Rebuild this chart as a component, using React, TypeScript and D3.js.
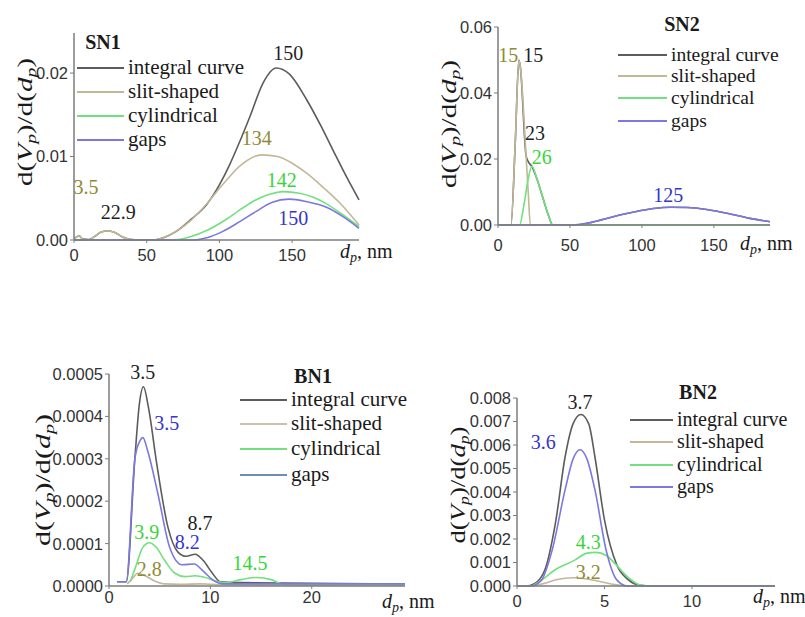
import React from 'react';
import * as d3 from 'd3';

type Pt = [number, number];

const SERIES_NAMES = ['integral curve', 'slit-shaped', 'cylindrical', 'gaps'];

// ---------- SN1 ----------
const sn1Integral: Pt[] = [[0,0.0002],[2,0.0004],[3.5,0.0005],[6,0.0001],[10,0.00005],[14,0.0004],[18,0.0009],[23,0.0011],[28,0.0009],[33,0.0004],[38,0.0001],[45,0],[55,0],[62,0.0003],[70,0.0010],[80,0.0024],[91,0.0042],[100,0.0066],[107,0.0090],[114,0.0118],[121,0.0148],[130,0.0188],[139,0.0206],[148,0.0199],[160,0.0168],[170,0.0136],[178,0.0108],[187,0.0077],[196,0.0048]];
const sn1Slit: Pt[] = [[0,0.0002],[2,0.0004],[3.5,0.0005],[6,0.0001],[10,0],[14,0.0004],[18,0.0009],[23,0.0011],[28,0.0009],[33,0.0004],[38,0.0001],[45,0],[55,0],[62,0.0003],[70,0.0010],[80,0.0023],[90,0.0041],[103,0.0068],[115,0.0090],[129,0.0102],[140,0.0100],[150,0.0092],[160,0.0080],[172,0.0062],[183,0.0044],[196,0.0018]];
const sn1Cyl: Pt[] = [[0,0],[68,0],[80,0.0004],[92,0.0012],[104,0.0024],[114,0.0036],[125,0.0048],[135,0.0055],[144,0.0058],[155,0.0056],[165,0.0051],[174,0.0043],[185,0.0030],[196,0.0016]];
const sn1Gaps: Pt[] = [[0,0],[82,0],[92,0.0003],[102,0.0010],[114,0.0022],[125,0.0034],[136,0.0045],[148,0.0049],[160,0.0046],[174,0.0039],[185,0.0028],[196,0.0014]];
const sn1XTicks = [0, 50, 100, 150];
const sn1YTicks = [0, 0.01, 0.02];
const sn1Labels = [
  { text: '150', series: 0, x: 147.4, y: 0.02236 },
  { text: '134', series: 1, x: 125.6, y: 0.01218 },
  { text: '142', series: 2, x: 142.8, y: 0.00719 },
  { text: '150', series: 3, x: 150.8, y: 0.0026 },
  { text: '3.5', series: 1, x: 8.3, y: 0.00638 },
  { text: '22.9', series: 0, x: 30.5, y: 0.00339 },
];

// ---------- SN2 ----------
const sn2Integral: Pt[] = [[0,0],[9,0],[12,0.025],[14.5,0.05],[15.5,0.048],[19.5,0.021],[21,0.0192],[23.5,0.0178],[27,0.014],[31,0.0085],[35,0.003],[38,0],[52,0],[65,0.0008],[80,0.0025],[95,0.0040],[108,0.0050],[120,0.0054],[132,0.0053],[145,0.0047],[160,0.0035],[175,0.0020],[189,0.0010]];
const sn2Slit: Pt[] = [[0,0],[9,0],[12,0.025],[14.5,0.05],[15.5,0.048],[19.5,0.021],[21,0.01],[22.5,0],[189,0]];
const sn2Cyl: Pt[] = [[0,0],[15,0],[18,0.006],[21,0.014],[23.5,0.0178],[27,0.014],[31,0.0085],[35,0.003],[38,0],[189,0]];
const sn2Gaps: Pt[] = [[0,0],[52,0],[65,0.0008],[80,0.0025],[95,0.0040],[108,0.0050],[120,0.0054],[132,0.0053],[145,0.0047],[160,0.0035],[175,0.0020],[189,0.0010]];
const sn2XTicks = [0, 50, 100, 150];
const sn2YTicks = [0, 0.02, 0.04, 0.06];
const sn2Labels = [
  { text: '15', series: 1, x: 7.2, y: 0.0515 },
  { text: '15', series: 0, x: 24.5, y: 0.0515 },
  { text: '23', series: 0, x: 25.7, y: 0.0278 },
  { text: '26', series: 2, x: 30.4, y: 0.0207 },
  { text: '125', series: 3, x: 118.3, y: 0.0091 },
];

// ---------- BN1 ----------
const bn1Integral: Pt[] = [[0.8,0.00001],[1.7,0.00001],[2.55,0.0003],[3.0,0.00043],[3.4,0.00047],[3.9,0.00042],[4.7,0.00029],[5.8,0.00014],[6.8,0.00008],[7.6,0.00007],[8.5,0.000075],[9.3,0.00006],[10.2,0.00003],[11,0.00001],[13,0.000008],[29.2,0.000005]];
const bn1Slit: Pt[] = [[1.8,0.000005],[2.4,0.00002],[2.8,0.00003],[3.5,0.000025],[4.5,0.000012],[5.5,0.000005],[7,0.000004],[9,0.000005],[11,0.000003],[29.2,0.000002]];
const bn1Cyl: Pt[] = [[2.1,0.00001],[2.7,0.00005],[3.3,0.00009],[4.0,0.000102],[4.7,0.00009],[5.5,0.00006],[6.5,0.00003],[7.5,0.000022],[8.5,0.000024],[9.5,0.00002],[10.5,0.000012],[11.5,0.000008],[13,0.000015],[14.5,0.00002],[16,0.000015],[17,0.000005],[18,0.000002],[29.2,0.000002]];
const bn1Gaps: Pt[] = [[0.8,0.00001],[1.7,0.00001],[2.55,0.0003],[3.0,0.00034],[3.35,0.00035],[3.8,0.00032],[4.8,0.00022],[6.0,0.00009],[7.2,0.00005],[8.4,0.000052],[9.3,0.000035],[10.2,0.000015],[11.2,0.000005],[29.2,0.000005]];
const bn1XTicks = [0, 10, 20];
const bn1YTicks = [0, 0.0001, 0.0002, 0.0003, 0.0004, 0.0005];
const bn1Labels = [
  { text: '3.5', series: 0, x: 3.32, y: 0.000505 },
  { text: '3.5', series: 3, x: 5.69, y: 0.000384 },
  { text: '3.9', series: 2, x: 3.72, y: 0.000128 },
  { text: '2.8', series: 1, x: 3.98, y: 0.0000394 },
  { text: '8.7', series: 0, x: 8.98, y: 0.000148 },
  { text: '8.2', series: 3, x: 7.72, y: 0.0001045 },
  { text: '14.5', series: 2, x: 13.91, y: 0.0000535 },
];

// ---------- BN2 ----------
const bn2Integral: Pt[] = [[0,0],[0.5,0],[1.0,0.0001],[1.6,0.0007],[2.2,0.0027],[2.75,0.0055],[3.2,0.0069],[3.65,0.0073],[4.1,0.0069],[4.45,0.0055],[5.0,0.0028],[5.7,0.0009],[6.3,0.0003],[6.9,0.00005],[7.5,0],[14.74,0]];
const bn2Slit: Pt[] = [[0,0],[0.8,0],[1.5,0.0001],[2.3,0.00028],[3.2,0.00035],[4.0,0.0003],[4.8,0.00018],[5.6,0.00006],[6.3,0],[14.74,0]];
const bn2Cyl: Pt[] = [[0,0],[0.8,0],[1.3,0.0002],[2.2,0.0007],[3.3,0.0011],[4.0,0.0014],[4.5,0.00143],[5.1,0.0013],[5.6,0.00095],[6.3,0.0004],[7.0,0.00005],[7.5,0],[14.74,0]];
const bn2Gaps: Pt[] = [[0,0],[0.8,0],[1.4,0.00025],[2.0,0.0015],[2.75,0.0041],[3.2,0.0054],[3.6,0.0058],[4.0,0.0054],[4.45,0.0041],[5.1,0.0015],[5.7,0.00026],[6.3,0],[14.74,0]];
const bn2XTicks = [0, 5, 10];
const bn2YTicks = [0, 0.001, 0.002, 0.003, 0.004, 0.005, 0.006, 0.007, 0.008];
const bn2Labels = [
  { text: '3.7', series: 0, x: 3.6, y: 0.00782 },
  { text: '3.6', series: 3, x: 1.5, y: 0.00614 },
  { text: '4.3', series: 2, x: 4.07, y: 0.00189 },
  { text: '3.2', series: 1, x: 4.07, y: 0.00061 },
];

const LINE_COLORS = ['#5c5c5c', '#c2b898', '#72e07e', '#7b78e0'];
const LABEL_COLORS = ['#1e1e1e', '#8f8a35', '#3ad43a', '#3636c8'];

interface PanelCfg {
  title: string;
  series: Pt[][];
  xDomain: [number, number];
  yDomain: [number, number];
  xRange: [number, number];
  yRange: [number, number];
  xTicks: number[];
  yTicks: number[];
  yFmt: string;
  labels: { text: string; series: number; x: number; y: number }[];
  xTickOff: number;
  titlePos: [number, number];
  legendX: number;
  legendRows: number[];
  legendLen: number;
  legendFont: number;
  legendColors: string[];
  yLabelPos: [number, number];
  yLabelLen: number;
  xLabelPos: [number, number];
}

const PANELS: PanelCfg[] = [
  {
    title: 'SN1', series: [sn1Integral, sn1Slit, sn1Cyl, sn1Gaps],
    xDomain: [0, 196], yDomain: [0, 0.0248], xRange: [74, 359], yRange: [240, 33],
    xTicks: sn1XTicks, yTicks: sn1YTicks, yFmt: '.2f', labels: sn1Labels, xTickOff: 15,
    titlePos: [103, 49], legendX: 77, legendRows: [68, 92, 116, 140], legendLen: 47, legendFont: 21,
    legendColors: LINE_COLORS, yLabelPos: [32, 122], yLabelLen: 128, xLabelPos: [340, 258],
  },
  {
    title: 'SN2', series: [sn2Integral, sn2Slit, sn2Cyl, sn2Gaps],
    xDomain: [0, 189], yDomain: [0, 0.06], xRange: [498, 770], yRange: [225, 27],
    xTicks: sn2XTicks, yTicks: sn2YTicks, yFmt: '.2f', labels: sn2Labels, xTickOff: 20,
    titlePos: [682, 31], legendX: 618, legendRows: [55, 76, 98, 121], legendLen: 49, legendFont: 19.5,
    legendColors: LINE_COLORS, yLabelPos: [456, 124], yLabelLen: 128, xLabelPos: [740, 250],
  },
  {
    title: 'BN1', series: [bn1Integral, bn1Slit, bn1Cyl, bn1Gaps],
    xDomain: [0, 29.2], yDomain: [0, 0.0005], xRange: [109, 405], yRange: [586, 374],
    xTicks: bn1XTicks, yTicks: bn1YTicks, yFmt: '.4f', labels: bn1Labels, xTickOff: 11,
    titlePos: [313, 383], legendX: 240, legendRows: [400, 424, 449, 475], legendLen: 47, legendFont: 21,
    legendColors: ['#5c5c5c', '#c9c4a8', '#72e07e', '#6f8db0'], yLabelPos: [50, 480], yLabelLen: 132, xLabelPos: [382, 608],
  },
  {
    title: 'BN2', series: [bn2Integral, bn2Slit, bn2Cyl, bn2Gaps],
    xDomain: [0, 14.74], yDomain: [0, 0.008], xRange: [517, 775], yRange: [586, 398],
    xTicks: bn2XTicks, yTicks: bn2YTicks, yFmt: '.3f', labels: bn2Labels, xTickOff: 15,
    titlePos: [698, 399], legendX: 630, legendRows: [420, 442, 465, 487], legendLen: 43, legendFont: 20,
    legendColors: LINE_COLORS, yLabelPos: [465, 485], yLabelLen: 117, xLabelPos: [753, 603],
  },
];

const AXIS = '#7c7c7c';
const SERIF = '"Liberation Serif", "Times New Roman", serif';
const SANS = '"Liberation Sans", Arial, sans-serif';

function Panel({ cfg }: { cfg: PanelCfg }) {
  const x = d3.scaleLinear().domain(cfg.xDomain).range(cfg.xRange);
  const y = d3.scaleLinear().domain(cfg.yDomain).range(cfg.yRange);
  const line = d3.line<Pt>().x(d => x(d[0])).y(d => y(d[1])).curve(d3.curveMonotoneX);
  const fmt = d3.format(cfg.yFmt);
  const x0 = cfg.xRange[0];
  const y0 = cfg.yRange[0];
  return (
    <g>
      {cfg.series.map((s, i) => (
        <path key={i} d={line(s) || ''} fill="none" stroke={LINE_COLORS[i]} strokeWidth={1.6} />
      ))}
      <line x1={x0} x2={x0} y1={y0} y2={cfg.yRange[1]} stroke={AXIS} strokeWidth={1.5} />
      <line x1={x0} x2={cfg.xRange[1]} y1={y0} y2={y0} stroke={AXIS} strokeWidth={1.5} />
      {cfg.yTicks.map((t, i) => (
        <g key={'y' + i}>
          <line x1={x0 - 4} x2={x0} y1={y(t)} y2={y(t)} stroke={AXIS} strokeWidth={1} />
          <text x={x0 - 6} y={y(t)} dy="0.36em" textAnchor="end" fontFamily={SANS} fontSize={16.5} fill="#333">{fmt(t)}</text>
        </g>
      ))}
      {cfg.xTicks.map((t, i) => (
        <g key={'x' + i}>
          <line x1={x(t)} x2={x(t)} y1={y0} y2={y0 + 3} stroke={AXIS} strokeWidth={1} />
          <text x={x(t)} y={y0 + cfg.xTickOff} dy="0.36em" textAnchor="middle" fontFamily={SANS} fontSize={16.5} fill="#333">{t}</text>
        </g>
      ))}
      <text x={cfg.titlePos[0]} y={cfg.titlePos[1]} textAnchor="middle" fontFamily={SERIF} fontWeight="bold" fontSize={20} fill="#1a1a1a">{cfg.title}</text>
      {SERIES_NAMES.map((n, i) => (
        <g key={'l' + i}>
          <line x1={cfg.legendX} x2={cfg.legendX + cfg.legendLen} y1={cfg.legendRows[i]} y2={cfg.legendRows[i]} stroke={cfg.legendColors[i]} strokeWidth={1.8} />
          <text x={cfg.legendX + cfg.legendLen + 4} y={cfg.legendRows[i]} dy="0.3em" fontFamily={SERIF} fontSize={cfg.legendFont} fill="#1a1a1a">{n}</text>
        </g>
      ))}
      {cfg.labels.map((l, i) => (
        <text key={'p' + i} x={x(l.x)} y={y(l.y)} dy="0.35em" textAnchor="middle" fontFamily={SERIF} fontSize={20} fill={LABEL_COLORS[l.series]}>{l.text}</text>
      ))}
      <text transform={`translate(${cfg.yLabelPos[0]},${cfg.yLabelPos[1]}) rotate(-90)`} textAnchor="middle" fontFamily={SERIF} fontSize={21} fill="#1a1a1a" textLength={cfg.yLabelLen} lengthAdjust="spacingAndGlyphs">
        d(<tspan fontStyle="italic">V</tspan><tspan fontStyle="italic" fontSize={14} dy={4}>p</tspan><tspan dy={-4}>)/d(</tspan><tspan fontStyle="italic">d</tspan><tspan fontStyle="italic" fontSize={14} dy={4}>p</tspan><tspan dy={-4}>)</tspan>
      </text>
      <text x={cfg.xLabelPos[0]} y={cfg.xLabelPos[1]} fontFamily={SERIF} fontSize={20} fill="#1a1a1a">
        <tspan fontStyle="italic">d</tspan><tspan fontStyle="italic" fontSize={14} dy={4}>p</tspan><tspan dy={-4}>, nm</tspan>
      </text>
    </g>
  );
}

export default function App() {
  return (
    <svg width={805} height={617} style={{ position: 'absolute', left: 0, top: 0, background: '#fff' }}>
      <rect x={0} y={0} width={805} height={617} fill="#fff" />
      {PANELS.map((p, i) => <Panel key={i} cfg={p} />)}
    </svg>
  );
}
